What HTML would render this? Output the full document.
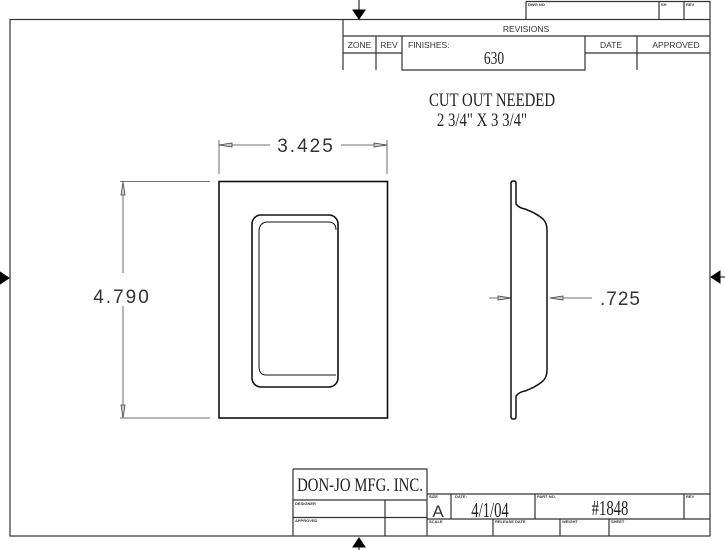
<!DOCTYPE html>
<html><head><style>html,body{margin:0;padding:0;background:#fff}svg{display:block}</style></head>
<body>
<svg width="725" height="550" viewBox="0 0 725 550" xmlns="http://www.w3.org/2000/svg">
<g fill="none" stroke="#333" stroke-width="1.2">
<rect x="10" y="19.5" width="700" height="516.5"/>
<path d="M526 1.5H710V19.5M659 1.5V19.5M684 1.5V19.5M526 1.5V19.5"/>
<path d="M343 19.5V70M343 36H710M343 53H402M585 53H710M376 36V70M637 36V70M402 36V70H585V36"/>
<path d="M293 469H427V536M293 469V536M293 500H427M293 517.5H427M385 500V536"/>
<path d="M427 494H710M427 519H710M451 494V519M535 494V519M684 494V519M493 519V536M560 519V536M609 519V536"/>
</g>
<g fill="#000" stroke="#000">
<line x1="359" y1="0" x2="359" y2="10"/><polygon points="353,10 365,10 359,19"/>
<line x1="359" y1="541" x2="359" y2="550" /><polygon points="353,547 365,547 359,538"/>
<polygon points="0,272 0,284 9,278"/>
<line x1="716" y1="277" x2="725" y2="277"/><polygon points="720,271 720,283 711,277"/>
</g>
<g fill="none" stroke="#111">
<rect x="219" y="181.5" width="168.5" height="236.5" stroke-width="1.6"/>
<rect x="252" y="215" width="86" height="172" rx="9" stroke-width="1.6"/>
<path d="M336 375H266Q259 375 259 366V232Q259 222 268 222H328Q336 222 336 230" stroke-width="1"/>
</g>
<g stroke="#444" stroke-width="0.8" fill="#ccc">
<path d="M219 140V174M387 140V174M219 145H270M341 145H387" fill="none"/>
<polygon points="219,145 232,143 232,147"/><polygon points="387,145 374,143 374,147"/>
<path d="M120 181.5H210M120 418H210M123 181.5V273M123 306V418" fill="none"/>
<polygon points="123,182 121,195 125,195"/><polygon points="123,418 121,405 125,405"/>
<path d="M489 298H511M550 298H592" fill="none"/>
<polygon points="511,298 498,296 498,300"/><polygon points="550,298 563,296 563,300"/>
</g>
<path d="M511 183Q511 181 513.5 181Q516 181 516 183V204Q519 208 525 209Q536 213 543 219Q547 223 547 230V370Q547 377 543 381Q536 387 525 391Q519 392 516 396V417Q516 419 513.5 419Q511 419 511 417Z" fill="none" stroke="#111" stroke-width="1.5"/>
<g font-family="'Liberation Sans',sans-serif" fill="#333">
<text x="306" y="152" font-size="19" text-anchor="middle" letter-spacing="2">3.425</text>
<text x="122" y="303" font-size="19" text-anchor="middle" letter-spacing="2">4.790</text>
<text x="600" y="305" font-size="19" letter-spacing="1">.725</text>
<g font-size="8.5" text-anchor="middle">
<text x="526" y="32">REVISIONS</text>
<text x="359.5" y="48">ZONE</text>
<text x="389" y="48">REV</text>
<text x="408" y="48" text-anchor="start">FINISHES:</text>
<text x="611" y="48">DATE</text>
<text x="676" y="48">APPROVED</text>
</g>
<g font-size="4" font-weight="bold">
<text x="528" y="6">DWG NO</text><text x="661" y="6">SH</text><text x="686" y="6">REV</text>
<text x="295" y="505">DESIGNER</text><text x="295" y="522">APPROVED</text>
<text x="429" y="498">SIZE</text><text x="455" y="498">DATE:</text><text x="537" y="498">PART NO.</text><text x="686" y="498">REV</text>
<text x="429" y="523">SCALE</text><text x="495" y="523">RELEASE DATE</text><text x="562" y="523">WEIGHT</text><text x="611" y="523">SHEET</text>
</g>
<text x="438" y="517" font-size="17" text-anchor="middle">A</text>
</g>
<g font-family="'Liberation Serif',serif" fill="#222" text-anchor="middle">
<text transform="translate(494 64) scale(0.75 1)" font-size="18">630</text>
<text transform="translate(492 106) scale(0.78 1)" font-size="19">CUT OUT NEEDED</text>
<text transform="translate(482 126) scale(0.78 1)" font-size="19">2 3/4" X 3 3/4"</text>
<text transform="translate(360 491) scale(0.78 1)" font-size="19">DON-JO MFG. INC.</text>
<text transform="translate(490 517) scale(0.7 1)" font-size="21">4/1/04</text>
<text transform="translate(610 515) scale(0.7 1)" font-size="21">#1848</text>
</g>
</svg>
</body></html>
